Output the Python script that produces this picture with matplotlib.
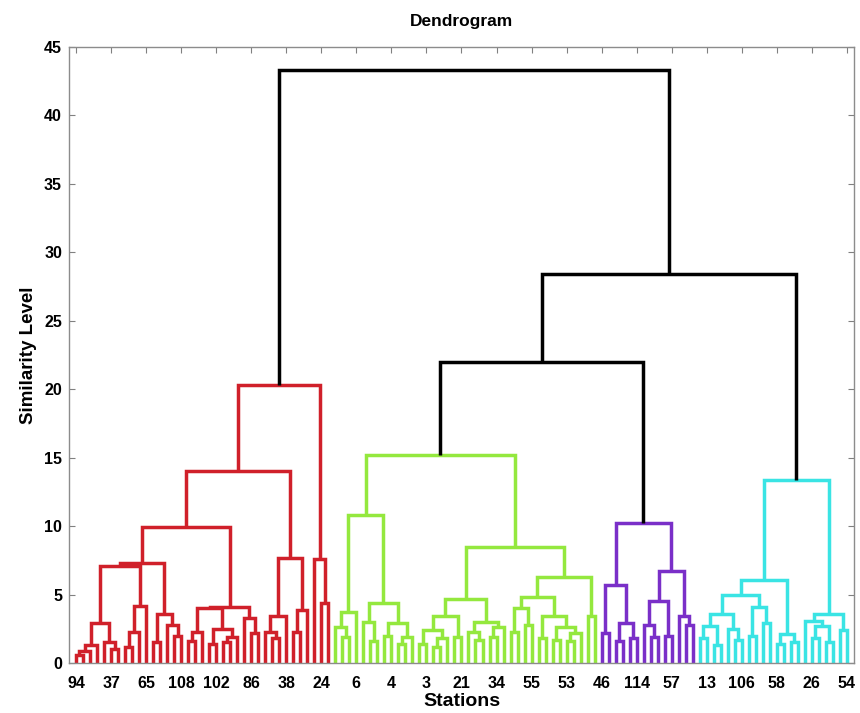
import matplotlib.pyplot as plt

# merge heights, leaves numbered in plotted order
red_tree = [20.3,
    [14.0,
        [9.9,
            [7.3,
                [7.1,
                    [2.9, [1.3, [0.9, [0.6, 1, 2], 3], 4], [1.5, 5, [1.0, 6, 7]]],
                    [4.2, [2.3, [1.2, 8, 9], 10], 11]],
                [3.6, [1.5, 12, 13], [2.8, 14, [2.0, 15, 16]]]],
            [4.1,
                [4.0, [2.3, [1.6, 17, 18], 19], [2.5, [1.4, 20, 21], [1.9, [1.5, 22, 23], 24]]],
                [3.3, 25, [2.2, 26, 27]]]],
        [7.7,
            [3.4, [2.3, 28, [1.8, 29, 30]], 31],
            [3.9, [2.3, 32, 33], 34]]],
    [7.6, 35, [4.4, 36, 37]]]

green_tree = [15.2,
    [10.8,
        [3.7, [2.6, 38, [1.9, 39, 40]], 41],
        [4.4, [3.0, 42, [1.6, 43, 44]], [2.9, [2.0, 45, 46], [1.9, [1.4, 47, 48], 49]]]],
    [8.5,
        [4.7,
            [3.4, [2.4, [1.4, 50, 51], [1.8, [1.2, 52, 53], 54]], [1.9, 55, 56]],
            [3.0, [2.3, 57, [1.7, 58, 59]], [2.6, [1.9, 60, 61], 62]]],
        [6.3,
            [4.8,
                [4.0, [2.3, 63, 64], [2.8, 65, 66]],
                [3.4, [1.8, 67, 68], [2.6, [1.7, 69, 70], [2.2, [1.6, 71, 72], 73]]]],
            [3.4, 74, 75]]]]

purple_tree = [10.2,
    [5.7, [2.2, 76, 77], [2.9, [1.6, 78, 79], [1.8, 80, 81]]],
    [6.7,
        [4.5, [2.8, 82, [1.9, 83, 84]], [2.0, 85, 86]],
        [3.4, 87, [2.8, 88, 89]]]]

cyan_tree = [13.4,
    [6.1,
        [5.0,
            [3.6, [2.7, [1.8, 90, 91], [1.3, 92, 93]], [2.5, 94, [1.7, 95, 96]]],
            [4.1, [2.0, 97, 98], [2.9, 99, 100]]],
        [2.1, [1.4, 101, 102], [1.5, 103, 104]]],
    [3.6, [3.1, 105, [2.7, [1.8, 106, 107], [1.5, 108, 109]]], [2.4, 110, 111]]]

# upper links (black)
full_tree = [43.3, red_tree, [28.4, [22.0, green_tree, purple_tree], cyan_tree]]

group_trees = [red_tree, green_tree, purple_tree, cyan_tree]
group_colors = ['#d0202a', '#94e83e', '#7a2fc8', '#3ae4e4']

# every 5th leaf carries a station label
tick_leaves = list(range(1, 112, 5))
tick_names = ['94', '37', '65', '108', '102', '86', '38', '24', '6', '4', '3', '21',
              '34', '55', '53', '46', '114', '57', '13', '106', '58', '26', '54']

leaves = []
links = []


def layout(node, color):
    if not isinstance(node, list):
        leaves.append(node)
        return len(leaves), 0.0
    for tree, c in zip(group_trees, group_colors):
        if node is tree:
            color = c
    h, left, right = node
    xl, hl = layout(left, color)
    xr, hr = layout(right, color)
    links.append(([xl, xl, xr, xr], [hl, h, h, hr], color))
    return (xl + xr) / 2, h


layout(full_tree, 'black')

plt.rcParams['font.family'] = ['Liberation Sans', 'DejaVu Sans']
plt.rcParams['font.weight'] = 'bold'

fig = plt.figure(figsize=(8.6, 7.13), dpi=100)
ax = fig.add_axes([0.0802, 0.0701, 0.9128, 0.864])

for xs, ys, c in links:
    ax.plot(xs, ys, color=c, lw=2.5, solid_joinstyle='miter', solid_capstyle='butt')

ax.set_xlim(0, len(leaves) + 1)
ax.set_ylim(0, 45)
ax.set_xticks(tick_leaves)
ax.set_xticklabels(tick_names)
ax.set_yticks(range(0, 46, 5))
ax.tick_params(direction='in', top=True, right=True, length=4, width=0.8,
               color='#808080', labelsize=11.5)
ax.tick_params(axis='x', pad=9)
ax.tick_params(axis='y', pad=5)
for s in ax.spines.values():
    s.set_color('#8c8c8c')
    s.set_linewidth(1.0)

ax.set_title('Dendrogram', fontsize=12.5, fontweight='bold', pad=15)
ax.set_xlabel('Stations', fontsize=14, fontweight='bold', labelpad=2)
ax.set_ylabel('Similarity Level', fontsize=13.5, fontweight='bold', labelpad=5)

fig.savefig('out.png', dpi=100)
